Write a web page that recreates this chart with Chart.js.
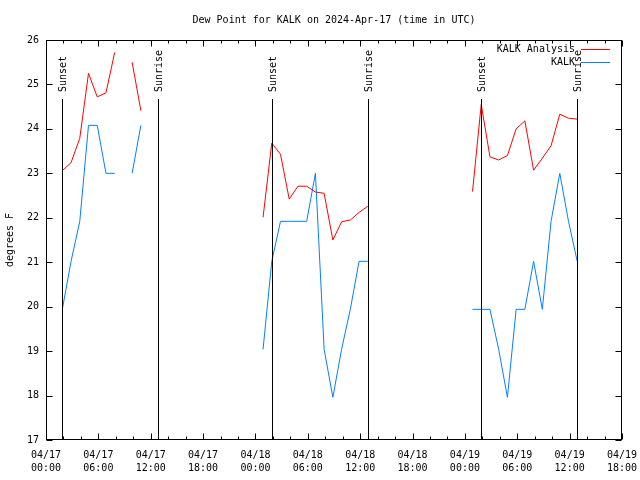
<!DOCTYPE html>
<html>
<head>
<meta charset="utf-8">
<title>Dew Point for KALK</title>
<script src="https://cdn.jsdelivr.net/npm/chart.js@4/dist/chart.umd.min.js"></script>
<style>
  body { margin: 0; background: #fff; }
  canvas { display: block; }
</style>
</head>
<body>
<canvas id="dewChart" width="640" height="480"></canvas>
<script>
/* Data : hours after 04/17 00:00 UTC, null = no value (breaks the line) */
var hours = [1.87, 2.87, 3.87, 4.87, 5.87, 6.87, 7.87, 8.87, 9.87, 10.87, 11.87,
    24.87, 25.87, 26.87, 27.87, 28.87, 29.87, 30.87, 31.87, 32.87, 33.87, 34.87, 35.87, 36.87, 37.87,
    48.87, 49.87, 50.87, 51.87, 52.87, 53.87, 54.87, 55.87, 56.87, 57.87, 58.87, 59.87, 60.87];

var analysis = [23.06, 23.24, 23.79, 25.25, 24.72, 24.81, 25.72, null, 25.50, 24.41, null,
    22.01, 23.68, 23.43, 22.42, 22.71, 22.71, 22.58, 22.55, 21.50, 21.91, 21.95, 22.12, 22.26, null,
    22.59, 24.55, 23.37, 23.30, 23.40, 24.00, 24.18, 23.07, 23.34, 23.62, 24.33, 24.24, 24.22];

var observed = [19.94, 21.02, 21.92, 24.08, 24.08, 23.00, 23.00, null, 23.00, 24.08, null,
    19.04, 21.02, 21.92, 21.92, 21.92, 21.92, 23.00, 19.04, 17.96, 19.04, 19.94, 21.02, 21.02, null,
    19.94, 19.94, 19.94, 19.04, 17.96, 19.94, 19.94, 21.02, 19.94, 21.92, 23.00, 21.92, 21.02];

var seriesNames = ["KALK Analysis", "KALK"];
var seriesColors = ["#ff0000", "#0080ff"];

var xTickDates = ["04/17", "04/17", "04/17", "04/17", "04/18", "04/18",
    "04/18", "04/18", "04/19", "04/19", "04/19", "04/19"];
var xTickTimes = ["00:00", "06:00", "12:00", "18:00", "00:00", "06:00",
    "12:00", "18:00", "00:00", "06:00", "12:00", "18:00"];

var sunTimes = [1.87, 12.88, 25.85, 36.85, 49.83, 60.82];
var sunLabels = ["Sunset", "Sunrise", "Sunset", "Sunrise", "Sunset", "Sunrise"];

var titleText = "Dew Point for KALK on 2024-Apr-17 (time in UTC)";
var yAxisText = "degrees F";

var FONT = "10px 'DejaVu Sans Mono', 'Liberation Mono', monospace";

function points(values) {
    return hours.map(function (h, i) {
        return { x: h, y: values[i] };
    });
}

/* frame, inward ticks, sun lines, legend and titles drawn the gnuplot way */
var gnuplotDecor = {
    id: "gnuplotDecor",
    afterDatasetsDraw: function (chart) {
        var ctx = chart.ctx;
        var a = chart.chartArea;
        var xs = chart.scales.x;
        var ys = chart.scales.y;
        var L = Math.round(a.left) + 0.5, R = Math.round(a.right) - 0.5;
        var T = Math.round(a.top) + 0.5, B = Math.round(a.bottom) - 0.5;

        ctx.save();
        ctx.strokeStyle = "#000";
        ctx.lineWidth = 1;

        // sunrise / sunset markers
        ctx.font = FONT;
        ctx.fillStyle = "#000";
        sunTimes.forEach(function (t, i) {
            var px = Math.round(xs.getPixelForValue(t)) + 0.5;
            ctx.beginPath();
            ctx.moveTo(px, a.top + 59);
            ctx.lineTo(px, B);
            ctx.stroke();
            ctx.save();
            ctx.translate(px + 1, a.top + 52);
            ctx.rotate(-Math.PI / 2);
            ctx.textAlign = "left";
            ctx.textBaseline = "middle";
            ctx.fillText(sunLabels[i], 0, 0);
            ctx.restore();
        });

        // border
        ctx.strokeRect(L, T, R - L, B - T);

        // x ticks, top and bottom
        ctx.beginPath();
        for (var h = xs.min; h <= xs.max; h += 2) {
            var px = Math.round(xs.getPixelForValue(h)) + 0.5;
            var len = (h % 6 === 0) ? 6 : 3;
            ctx.moveTo(px, B); ctx.lineTo(px, B - len);
            ctx.moveTo(px, T); ctx.lineTo(px, T + len);
        }
        // y ticks, left and right
        for (var v = ys.min; v <= ys.max; v += 1) {
            var py = Math.round(ys.getPixelForValue(v)) + 0.5;
            ctx.moveTo(L, py); ctx.lineTo(L + 6, py);
            ctx.moveTo(R, py); ctx.lineTo(R - 6, py);
        }
        ctx.stroke();

        // title
        ctx.textAlign = "center";
        ctx.textBaseline = "middle";
        ctx.fillText(titleText, (a.left + a.right) / 2, 20);

        // y axis title
        ctx.save();
        ctx.translate(10, (a.top + a.bottom) / 2);
        ctx.rotate(-Math.PI / 2);
        ctx.fillText(yAxisText, 0, 0);
        ctx.restore();

        // legend
        chart.data.datasets.forEach(function (ds, i) {
            var ly = 49 + i * 13;
            ctx.fillStyle = "#000";
            ctx.textAlign = "right";
            ctx.fillText(ds.label, 575, ly);
            ctx.strokeStyle = ds.borderColor;
            ctx.beginPath();
            ctx.moveTo(581, ly + 0.5);
            ctx.lineTo(610, ly + 0.5);
            ctx.stroke();
        });
        ctx.restore();
    }
};

Chart.defaults.font.family = "'DejaVu Sans Mono', 'Liberation Mono', monospace";
Chart.defaults.font.size = 10;
Chart.defaults.color = "#000";

new Chart(document.getElementById("dewChart").getContext("2d"), {
    type: "line",
    data: {
        datasets: [{
            label: seriesNames[0],
            data: points(analysis),
            borderColor: seriesColors[0],
            borderWidth: 1
        }, {
            label: seriesNames[1],
            data: points(observed),
            borderColor: seriesColors[1],
            borderWidth: 1
        }]
    },
    options: {
        responsive: false,
        animation: false,
        devicePixelRatio: 1,
        spanGaps: false,
        elements: {
            point: { radius: 0 },
            line: { tension: 0 }
        },
        layout: {
            padding: { top: 40, right: 18, left: 0, bottom: 0 }
        },
        plugins: {
            legend: { display: false },
            title: { display: false },
            tooltip: { enabled: false }
        },
        scales: {
            x: {
                type: "linear",
                min: 0,
                max: 66,
                grid: { display: false, drawTicks: false },
                border: { display: false },
                ticks: {
                    stepSize: 6,
                    autoSkip: false,
                    maxRotation: 0,
                    padding: 9,
                    font: { size: 10, lineHeight: 1.3 },
                    callback: function (value, index) {
                        return [xTickDates[index], xTickTimes[index]];
                    }
                },
                afterFit: function (scale) {
                    scale.height = 40;
                    scale.paddingLeft = 0;
                    scale.paddingRight = 0;
                }
            },
            y: {
                min: 17,
                max: 26,
                grid: { display: false, drawTicks: false },
                border: { display: false },
                ticks: {
                    stepSize: 1,
                    padding: 7,
                    font: { size: 10 }
                },
                afterFit: function (scale) {
                    scale.width = 46;
                    scale.paddingTop = 0;
                    scale.paddingBottom = 0;
                }
            }
        }
    },
    plugins: [gnuplotDecor]
});
</script>
</body>
</html>
